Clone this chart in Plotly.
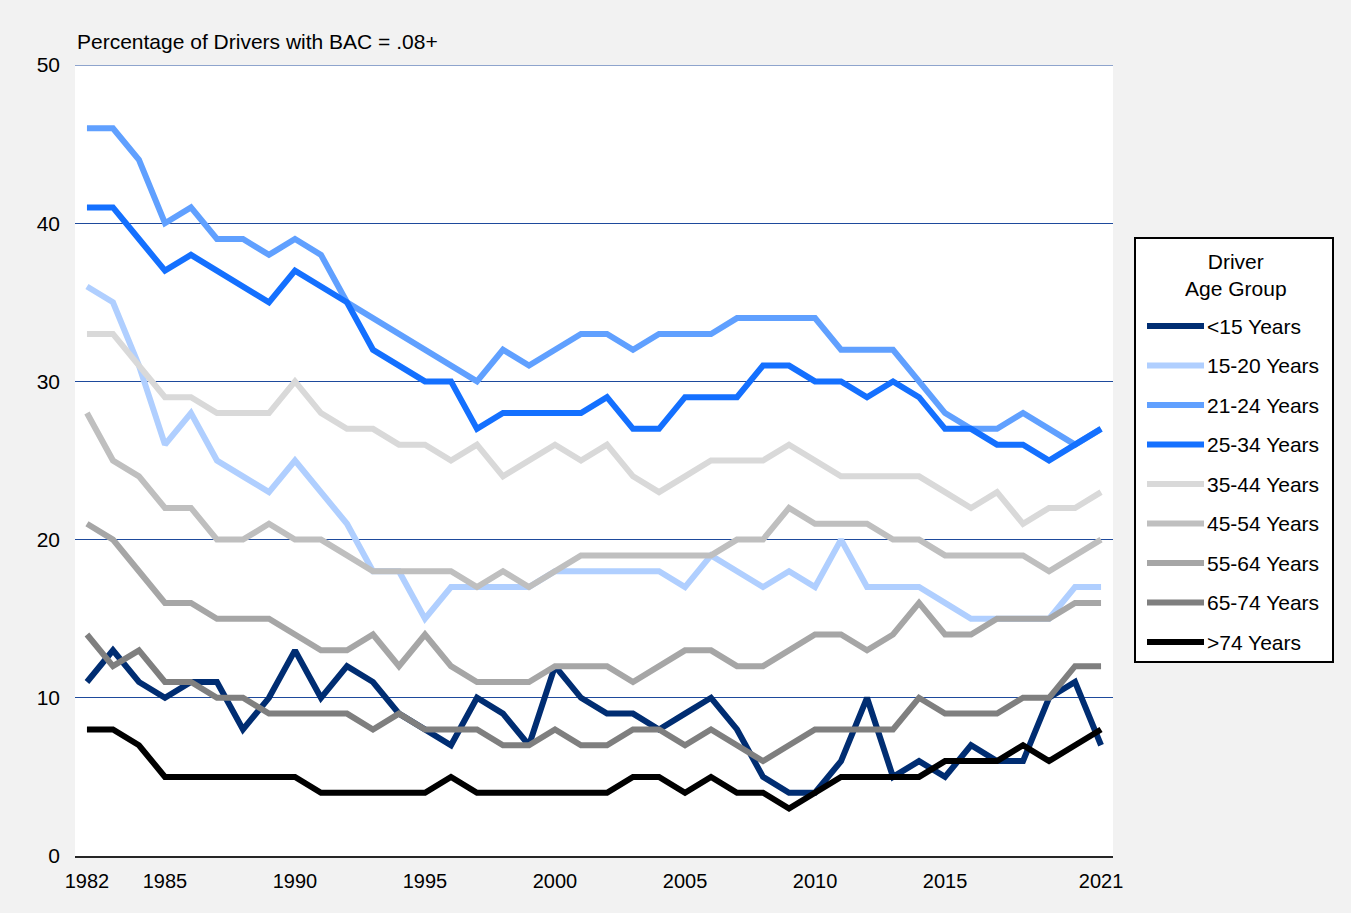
import plotly.graph_objects as go

years = list(range(1982, 2022))

age_groups = ["<15 Years", "15-20 Years", "21-24 Years", "25-34 Years", "35-44 Years",
              "45-54 Years", "55-64 Years", "65-74 Years", ">74 Years"]

under_15 = [11, 13, 11, 10, 11, 11, 8, 10, 13, 10,
            12, 11, 9, 8, 7, 10, 9, 7, 12, 10,
            9, 9, 8, 9, 10, 8, 5, 4, 4, 6,
            10, 5, 6, 5, 7, 6, 6, 10, 11, 7]
age_15_20 = [36, 35, 31, 26, 28, 25, 24, 23, 25, 23,
             21, 18, 18, 15, 17, 17, 17, 17, 18, 18,
             18, 18, 18, 17, 19, 18, 17, 18, 17, 20,
             17, 17, 17, 16, 15, 15, 15, 15, 17, 17]
age_21_24 = [46, 46, 44, 40, 41, 39, 39, 38, 39, 38,
             35, 34, 33, 32, 31, 30, 32, 31, 32, 33,
             33, 32, 33, 33, 33, 34, 34, 34, 34, 32,
             32, 32, 30, 28, 27, 27, 28, 27, 26, 27]
age_25_34 = [41, 41, 39, 37, 38, 37, 36, 35, 37, 36,
             35, 32, 31, 30, 30, 27, 28, 28, 28, 28,
             29, 27, 27, 29, 29, 29, 31, 31, 30, 30,
             29, 30, 29, 27, 27, 26, 26, 25, 26, 27]
age_35_44 = [33, 33, 31, 29, 29, 28, 28, 28, 30, 28,
             27, 27, 26, 26, 25, 26, 24, 25, 26, 25,
             26, 24, 23, 24, 25, 25, 25, 26, 25, 24,
             24, 24, 24, 23, 22, 23, 21, 22, 22, 23]
age_45_54 = [28, 25, 24, 22, 22, 20, 20, 21, 20, 20,
             19, 18, 18, 18, 18, 17, 18, 17, 18, 19,
             19, 19, 19, 19, 19, 20, 20, 22, 21, 21,
             21, 20, 20, 19, 19, 19, 19, 18, 19, 20]
age_55_64 = [21, 20, 18, 16, 16, 15, 15, 15, 14, 13,
             13, 14, 12, 14, 12, 11, 11, 11, 12, 12,
             12, 11, 12, 13, 13, 12, 12, 13, 14, 14,
             13, 14, 16, 14, 14, 15, 15, 15, 16, 16]
age_65_74 = [14, 12, 13, 11, 11, 10, 10, 9, 9, 9,
             9, 8, 9, 8, 8, 8, 7, 7, 8, 7,
             7, 8, 8, 7, 8, 7, 6, 7, 8, 8,
             8, 8, 10, 9, 9, 9, 10, 10, 12, 12]
over_74 = [8, 8, 7, 5, 5, 5, 5, 5, 5, 4,
           4, 4, 4, 4, 5, 4, 4, 4, 4, 4,
           4, 5, 5, 4, 5, 4, 4, 3, 4, 5,
           5, 5, 5, 6, 6, 6, 7, 6, 7, 8]

series = [under_15, age_15_20, age_21_24, age_25_34, age_35_44,
          age_45_54, age_55_64, age_65_74, over_74]
colors = ["#002D72", "#B0CFFF", "#60A0FF", "#1470FF", "#D9D9D9",
          "#BFBFBF", "#A6A6A6", "#7F7F7F", "#000000"]

x_ticks = [1982, 1985, 1990, 1995, 2000, 2005, 2010, 2015, 2021]
y_ticks = [0, 10, 20, 30, 40, 50]

FONT = "Liberation Sans, Arial, sans-serif"
GRID = "#1E4A9C"
W, H = 1351, 913
L, R, T, B = 75, 238, 65, 57


def px_x(px):
    return (px - L) / (W - L - R)


def px_y(py):
    return (H - B - py) / (H - T - B)


fig = go.Figure()
for name, vals, col in zip(age_groups, series, colors):
    fig.add_trace(go.Scatter(x=years, y=vals, name=name, mode="lines",
                             line=dict(color=col, width=6), showlegend=False))

# top gridline (plotly skips the one sitting on the range edge)
shapes = [dict(type="line", xref="paper", yref="y", x0=0, x1=1, y0=y_ticks[-1], y1=y_ticks[-1],
               line=dict(color=GRID, width=1), layer="below")]

# legend drawn by hand so the box matches the original
shapes.append(dict(type="rect", xref="paper", yref="paper",
                   x0=px_x(1135), x1=px_x(1333), y0=px_y(662), y1=px_y(238),
                   line=dict(color="black", width=2), fillcolor="white", layer="below"))
annotations = [
    dict(text="Percentage of Drivers with BAC = .08+", xref="paper", yref="paper",
         x=0, y=1, xanchor="left", yanchor="bottom", yshift=10, showarrow=False,
         font=dict(size=21, color="black", family=FONT)),
    dict(text="Driver<br>Age Group", xref="paper", yref="paper",
         x=px_x(1236), y=px_y(275), xanchor="center", yanchor="middle",
         showarrow=False, align="center",
         font=dict(size=21, color="black", family=FONT)),
]
for i, (name, col) in enumerate(zip(age_groups, colors)):
    yy = px_y(326 + 39.5 * i)
    shapes.append(dict(type="line", xref="paper", yref="paper",
                       x0=px_x(1147), x1=px_x(1204), y0=yy, y1=yy,
                       line=dict(color=col, width=6)))
    annotations.append(dict(text=name, xref="paper", yref="paper",
                            x=px_x(1205), y=yy, xanchor="left", yanchor="middle",
                            showarrow=False,
                            font=dict(size=21, color="black", family=FONT)))

fig.update_layout(
    width=W, height=H,
    margin=dict(l=L, r=R, t=T, b=B),
    paper_bgcolor="#F2F2F2",
    plot_bgcolor="white",
    font=dict(family=FONT, size=21, color="black"),
    shapes=shapes,
    annotations=annotations,
    xaxis=dict(range=[1981.54, 2021.46], tickvals=x_ticks, showgrid=False,
               zeroline=False, showline=True, linecolor="#262626", linewidth=2,
               ticks="", tickfont=dict(size=20), ticklabelstandoff=6),
    yaxis=dict(range=[0, 50], tickvals=y_ticks, showgrid=True,
               gridcolor=GRID, gridwidth=1, zeroline=False,
               ticks="", tickfont=dict(size=21), ticklabelstandoff=14),
)

fig.write_html("out.html", config={"displayModeBar": False},
               post_script="document.body.style.margin='0';")
